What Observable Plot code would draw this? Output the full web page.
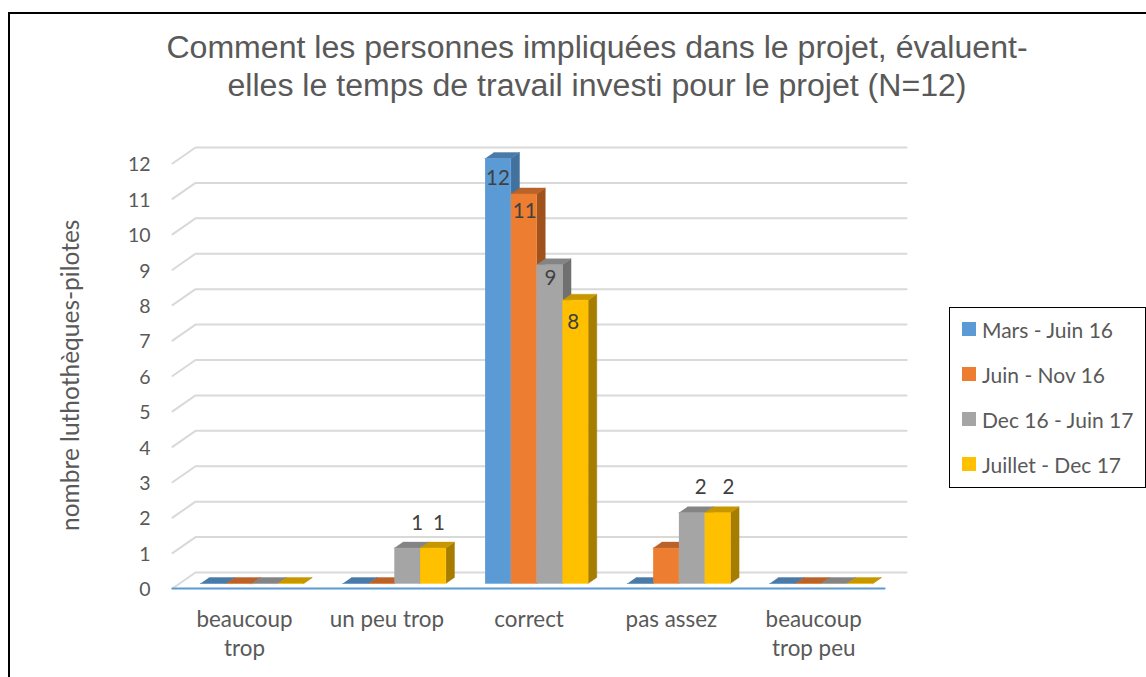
<!DOCTYPE html>
<html lang="fr">
<head>
<meta charset="utf-8">
<script src="https://cdn.jsdelivr.net/npm/d3@7"></script>
<script src="https://cdn.jsdelivr.net/npm/@observablehq/plot@0.6"></script>
<style>
  html, body { margin: 0; padding: 0; background: #fff; }
  #chart { position: relative; width: 1146px; height: 677px; overflow: hidden; }
  #chart svg { position: absolute; left: 0; top: 0; background: transparent; }
  #frame { position: absolute; left: 8px; top: 12px; width: 1200px; height: 800px; border: 2px solid #000; }
  #title { position: absolute; left: 97px; width: 1000px; top: 28px; text-align: center; color: #595959;
           font: 32.1px/38px "Liberation Sans", Arial, sans-serif; }
  #legend { position: absolute; left: 949px; top: 307px; width: 195px; height: 179px; border: 1px solid #000;
            background: #fff; color: #595959; font: 21px Lato, sans-serif; }
  .item { position: absolute; left: 12px; white-space: nowrap; display: flex; align-items: center; height: 24px; }
  .swatch { width: 14px; height: 14px; margin-right: 6px; flex: none; }
</style>
</head>
<body>
<div id="chart"><div id="frame"></div></div>
<script>
const titleLines = [
  "Comment les personnes impliquées dans le projet, évaluent-",
  "elles le temps de travail investi pour le projet (N=12)"
];
const yLabel = "nombre luthothèques-pilotes";
const categories = ["beaucoup\ntrop", "un peu trop", "correct", "pas assez", "beaucoup\ntrop peu"];
const seriesNames = ["Mars - Juin 16", "Juin - Nov 16", "Dec 16 - Juin 17", "Juillet - Dec 17"];
const marsJuin16 = [0, 0, 12, 0, 0];
const juinNov16 = [0, 0, 11, 1, 0];
const dec16Juin17 = [0, 1, 9, 2, 0];
const juilletDec17 = [0, 1, 8, 2, 0];
const seriesValues = [marsJuin16, juinNov16, dec16Juin17, juilletDec17];
const frontColors = ["#5b9bd5", "#ed7d31", "#a5a5a5", "#ffc000"];
const topColors = ["#4a7aa8", "#b9622a", "#848484", "#c79700"];
const sideColors = ["#41719c", "#a0521c", "#707070", "#a67d00"];
const yTicks = d3.range(0, 13);

// Shown value labels, with their offset from the bar's top in pixels
const labelPlacement = [
  {series: 2, cat: 1, dx: 10, dy: -25}, {series: 3, cat: 1, dx: 6, dy: -25},
  {series: 0, cat: 2, dx: 0, dy: 20}, {series: 1, cat: 2, dx: 1, dy: 18},
  {series: 2, cat: 2, dx: 1, dy: 14}, {series: 3, cat: 2, dx: -2, dy: 22},
  {series: 2, cat: 3, dx: 9, dy: -25}, {series: 3, cat: 3, dx: 11, dy: -25}
];

// 3D projection, in data units
const barW = 0.181, depthX = 0.0611, depthY = 0.169;
const gridFrontX = -0.5587, gridBackX = -0.397, gridEndX = 4.6, baseEndX = 4.445;
const gridFrontY = -0.141, gridBackY = 0.31;

const polys = [];
categories.forEach((c, i) => {
  seriesValues.forEach((vals, s) => {
    const v = vals[i];
    const x0 = i - 2 * barW + s * barW, x1 = x0 + barW;
    const add = (part, color, pts) => pts.forEach(([x, y]) => polys.push({id: `${i}-${s}-${part}`, color, x, y}));
    add("side", sideColors[s], [[x1, 0], [x1 + depthX, depthY], [x1 + depthX, v + depthY], [x1, v]]);
    add("top", topColors[s], [[x0, v], [x1, v], [x1 + depthX, v + depthY], [x0 + depthX, v + depthY]]);
    add("front", frontColors[s], [[x0, 0], [x1, 0], [x1, v], [x0, v]]);
  });
});

const gridPts = yTicks.flatMap(t => [
  {t, x: gridFrontX, y: t + gridFrontY},
  {t, x: gridBackX, y: t + gridBackY},
  {t, x: gridEndX, y: t + gridBackY}
]);

const labelRows = labelPlacement.map(p => ({
  x: p.cat - 2 * barW + (p.series + 0.5) * barW,
  y: seriesValues[p.series][p.cat],
  dx: p.dx, dy: p.dy
}));

const textColor = "#595959";
const chart = Plot.plot({
  width: 1146, height: 677,
  marginLeft: 150, marginBottom: 71, marginTop: 0, marginRight: 0,
  x: {domain: [0, 4], range: [251.5, 820.7]},
  y: {domain: [0, 12], range: [583, 158]},
  style: {fontFamily: "Lato, sans-serif", background: "transparent"},
  marks: [
    Plot.line(gridPts, {x: "x", y: "y", z: "t", stroke: "#d9d9d9", strokeWidth: 2}),
    Plot.line([[gridFrontX, gridFrontY], [baseEndX, gridFrontY]], {x: d => d[0], y: d => d[1], stroke: "#5b9bd5", strokeWidth: 2.2}),
    Plot.line(polys, {x: "x", y: "y", z: "id", fill: "color", stroke: "color", strokeWidth: 0.4}),
    Plot.axisY({ticks: yTicks, tickFormat: d => d, tickSize: 0, tickPadding: 0, dy: 6.5, fontSize: 19.5, color: textColor, label: null}),
    Plot.axisX({ticks: d3.range(categories.length), tickFormat: i => categories[i], tickSize: 0, tickPadding: 0, dx: -7.5, fontSize: 22.4, lineHeight: 1.3, color: textColor, label: null}),
    Plot.text([yLabel], {text: d => d, y: () => 5.88, frameAnchor: "left", textAnchor: "middle", dx: -79, rotate: -90, fontSize: 24.5, fill: textColor}),
    ...labelRows.map(r => Plot.text([r], {x: "x", y: "y", text: "y", dx: r.dx, dy: r.dy, fontSize: 20.5, fill: "#404040"}))
  ]
});

const root = document.getElementById("chart");
root.appendChild(chart);

const title = document.createElement("div");
title.id = "title";
title.innerHTML = titleLines.join("<br>");
root.appendChild(title);

const legend = document.createElement("div");
legend.id = "legend";
seriesNames.forEach((name, s) => {
  const item = document.createElement("div");
  item.className = "item";
  item.style.top = (9 + s * 45) + "px";
  const sw = document.createElement("span");
  sw.className = "swatch";
  sw.style.background = frontColors[s];
  const tx = document.createElement("span");
  tx.textContent = name;
  item.append(sw, tx);
  legend.appendChild(item);
});
root.appendChild(legend);
</script>
</body>
</html>
